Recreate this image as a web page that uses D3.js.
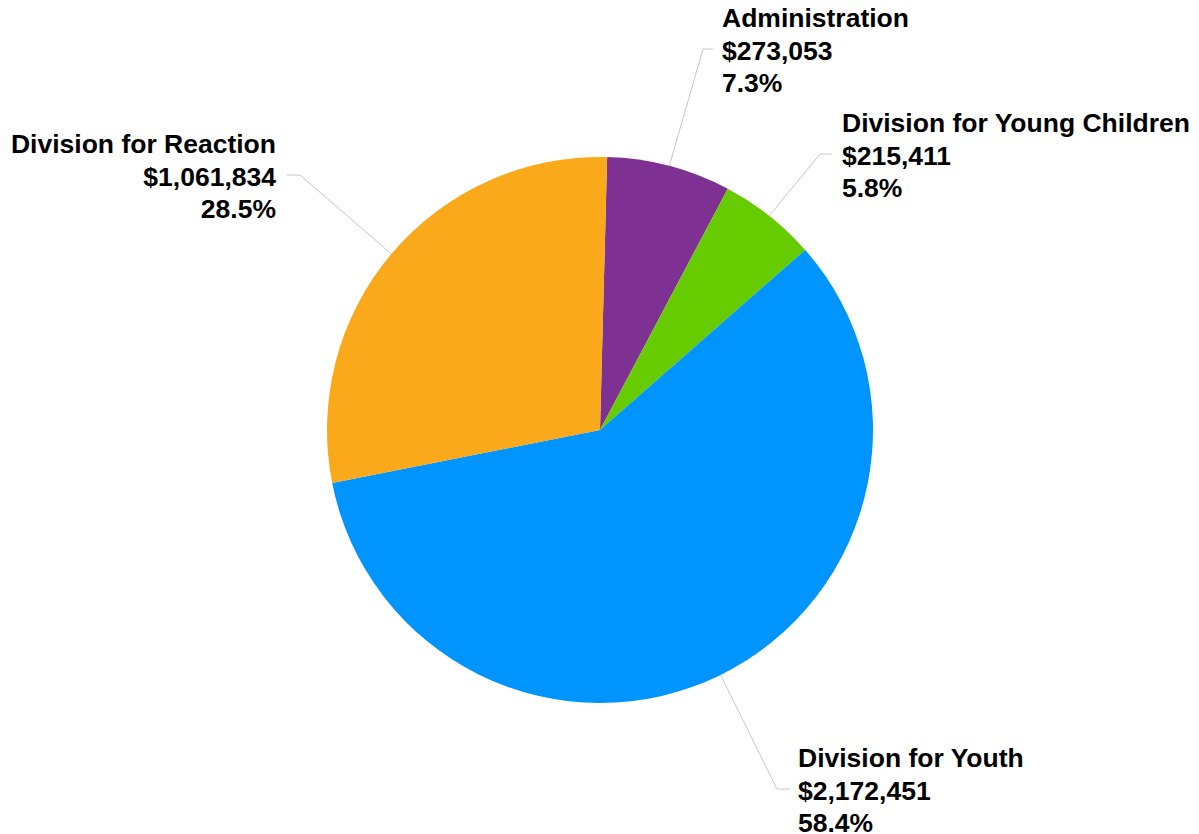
<!DOCTYPE html>
<html>
<head>
<meta charset="utf-8">
<script src="https://cdn.jsdelivr.net/npm/d3@7"></script>
<style>
  html, body { margin: 0; padding: 0; background: #fff; }
  svg { display: block; }
  .lbl { font-family: "Liberation Sans", Arial, sans-serif; font-weight: bold; font-size: 26.5px; fill: #000; }
</style>
</head>
<body>
<svg id="chart" width="1199" height="834"></svg>
<script>
// Budget by division
const categories = ["Administration", "Division for Young Children", "Division for Youth", "Division for Reaction"];
const amounts = [273053, 215411, 2172451, 1061834];
const colors = ["#7F3193", "#66CC00", "#0094FF", "#F9A91A"];

// Label placement: text anchor point, side, and leader elbow
const labelLayout = [
  { x: 722, y: 27,  anchor: "start", elbowX: 703, endX: 713 },
  { x: 842, y: 132, anchor: "start", elbowX: 820, endX: 832 },
  { x: 798, y: 767, anchor: "start", elbowX: 777, endX: 790 },
  { x: 276, y: 153, anchor: "end",   elbowX: 300, endX: 287 }
];

const width = 1199, height = 834;
const cx = 600, cy = 430, radius = 273;
const lineGap = 32.5;

const svg = d3.select("#chart");
const g = svg.append("g").attr("transform", `translate(${cx},${cy})`);

const total = d3.sum(amounts);
const data = categories.map((c, i) => ({ name: c, value: amounts[i], color: colors[i], layout: labelLayout[i] }));

const startAngle = 1.5 * Math.PI / 180;
const pie = d3.pie()
  .value(d => d.value)
  .sort(null)
  .startAngle(startAngle)
  .endAngle(startAngle + 2 * Math.PI);

const arcs = pie(data);
const arc = d3.arc().innerRadius(0).outerRadius(radius);

g.selectAll("path.slice")
  .data(arcs)
  .enter().append("path")
  .attr("class", "slice")
  .attr("d", arc)
  .attr("fill", d => d.data.color);

const fmtMoney = v => "$" + d3.format(",")(v);
const fmtPct = v => d3.format(".1f")(v * 100) + "%";

// Leader lines from slice mid-point on the rim to the label
arcs.forEach(a => {
  const mid = (a.startAngle + a.endAngle) / 2;
  const px = cx + radius * Math.sin(mid);
  const py = cy - radius * Math.cos(mid);
  const L = a.data.layout;
  const ly = L.y + lineGap - 10.5;
  svg.append("polyline")
    .attr("points", `${px},${py} ${L.elbowX},${ly} ${L.endX},${ly}`)
    .attr("fill", "none")
    .attr("stroke", "#c8c8c8")
    .attr("stroke-width", 1);

  const t = svg.append("text")
    .attr("class", "lbl")
    .attr("text-anchor", L.anchor);
  const lines = [a.data.name, fmtMoney(a.data.value), fmtPct(a.data.value / total)];
  lines.forEach((s, i) => {
    t.append("tspan").attr("x", L.x).attr("y", L.y + i * lineGap).text(s);
  });
});
</script>
</body>
</html>
